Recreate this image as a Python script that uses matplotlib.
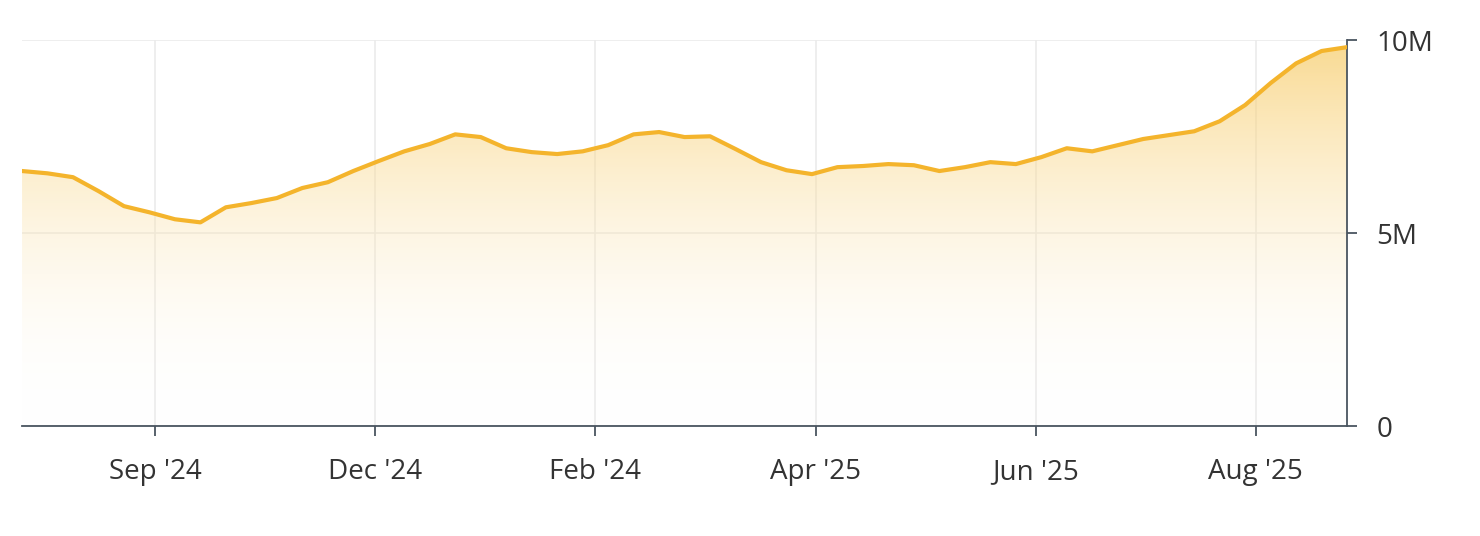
import matplotlib.pyplot as plt
import numpy as np
from matplotlib.path import Path
from matplotlib.patches import PathPatch
from matplotlib.colors import LinearSegmentedColormap

plt.rcParams['font.family'] = ['Open Sans', 'DejaVu Sans']

# weekly values, in millions
values = [6.61, 6.55, 6.45, 6.09, 5.70, 5.54, 5.36, 5.28, 5.67, 5.78, 5.91, 6.17, 6.32,
          6.61, 6.87, 7.12, 7.31, 7.56, 7.49, 7.20, 7.10, 7.05, 7.12, 7.28, 7.56, 7.62,
          7.49, 7.51, 7.18, 6.84, 6.63, 6.53, 6.71, 6.74, 6.79, 6.76, 6.61, 6.71, 6.84,
          6.79, 6.97, 7.20, 7.12, 7.28, 7.44, 7.54, 7.64, 7.90, 8.32, 8.89, 9.40, 9.72, 9.82]
tick_labels = ["Sep '24", "Dec '24", "Feb '24", "Apr '25", "Jun '25", "Aug '25"]
tick_pos = [5.22 + 8.64 * i for i in range(6)]

x = np.arange(len(values))
y = np.array(values) * 1e6

fig = plt.figure(figsize=(14.8, 5.36), dpi=100)
ax = fig.add_axes([0.0149, 0.205, 0.8953, 0.72])

cmap = LinearSegmentedColormap.from_list("g", [(1, 1, 1, 0), (0.97, 0.79, 0.38, 0.7)])
img = ax.imshow(np.linspace(0, 1, 256).reshape(-1, 1), cmap=cmap, aspect='auto',
                extent=[x[0], x[-1], 0, 10e6], origin='lower', zorder=1)
verts = list(zip(x, y)) + [(x[-1], 0), (x[0], 0)]
patch = PathPatch(Path(verts), facecolor='none', edgecolor='none')
ax.add_patch(patch)
img.set_clip_path(patch)

ax.plot(x, y, color='#F4B42C', lw=3, zorder=3)

ax.set_xlim(x[0], x[-1])
ax.set_ylim(0, 10e6)
ax.set_xticks(tick_pos)
ax.set_xticklabels(tick_labels)
ax.set_yticks([0, 5e6, 10e6])
ax.set_yticklabels(['0', '5M', '10M'])
ax.yaxis.tick_right()
ax.grid(True, color='#ebebeb', lw=1.2, zorder=0)
ax.set_axisbelow(True)
for s in ['top', 'left']:
    ax.spines[s].set_visible(False)
for s in ['bottom', 'right']:
    ax.spines[s].set_color('#4a5560')
    ax.spines[s].set_linewidth(1.3)
ax.tick_params(axis='both', colors='#4a5560', labelcolor='#333333', labelsize=20,
               length=7, width=1.3)
ax.tick_params(axis='x', pad=16)
ax.tick_params(axis='y', pad=14)

fig.savefig('out.png', dpi=100)
